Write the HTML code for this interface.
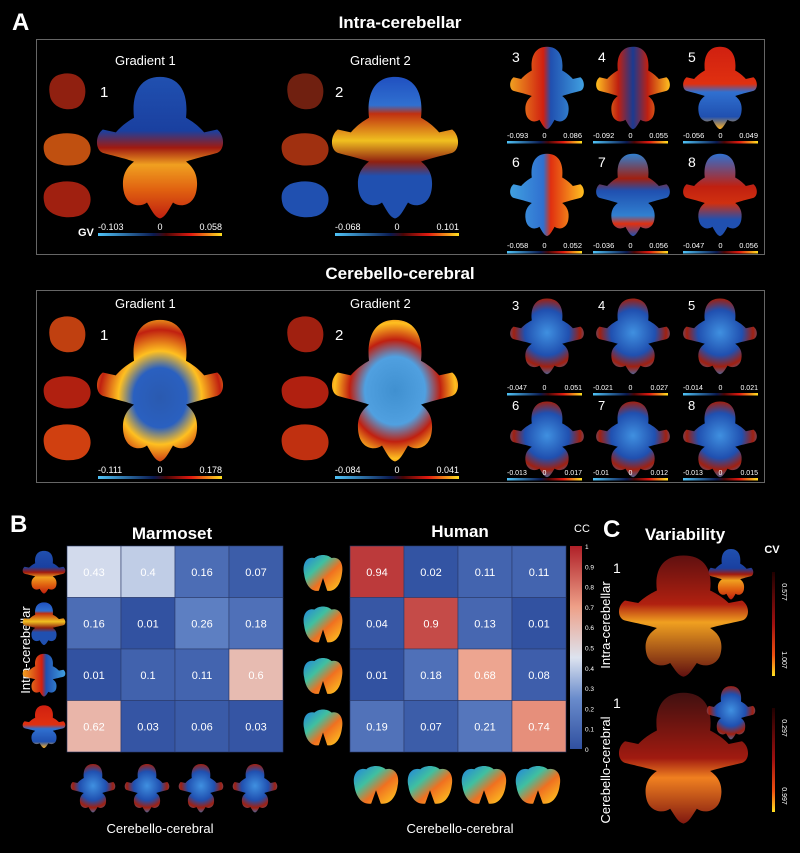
<!DOCTYPE html>
<html><head><meta charset="utf-8"><style>
html,body{margin:0;padding:0;background:#000;}
body{width:800px;height:848px;overflow:hidden;font-family:"Liberation Sans",sans-serif;}
</style></head><body>
<svg id="s" width="800" height="848" viewBox="0 0 800 848" xmlns="http://www.w3.org/2000/svg" font-family="Liberation Sans, sans-serif">
<defs>
<linearGradient id="gv" x1="0" x2="1"><stop offset="0" stop-color="#4fc3f7"/><stop offset="0.45" stop-color="#0a1a50"/><stop offset="0.55" stop-color="#4a0505"/><stop offset="0.75" stop-color="#e01a10"/><stop offset="1" stop-color="#ffe020"/></linearGradient>
<linearGradient id="b1" x1="0" y1="0" x2="0" y2="1"><stop offset="0" stop-color="#2050b0"/><stop offset="0.38" stop-color="#1a40a0"/><stop offset="0.5" stop-color="#a01a10"/><stop offset="0.62" stop-color="#f0a020"/><stop offset="0.8" stop-color="#e06010"/><stop offset="1" stop-color="#c02010"/></linearGradient>
<linearGradient id="b2" x1="0" y1="0" x2="0" y2="1"><stop offset="0" stop-color="#2050c0"/><stop offset="0.2" stop-color="#3070d0"/><stop offset="0.26" stop-color="#c03010"/><stop offset="0.45" stop-color="#f0c020"/><stop offset="0.6" stop-color="#902010"/><stop offset="0.7" stop-color="#2050b0"/><stop offset="1" stop-color="#2050b0"/></linearGradient>
<linearGradient id="b3" x1="0" y1="0" x2="1" y2="0"><stop offset="0" stop-color="#f0a020"/><stop offset="0.45" stop-color="#d02010"/><stop offset="0.55" stop-color="#2050b0"/><stop offset="1" stop-color="#40a0e0"/></linearGradient>
<linearGradient id="b4" x1="0" y1="0" x2="1" y2="0"><stop offset="0" stop-color="#ffc020"/><stop offset="0.3" stop-color="#c02010"/><stop offset="0.5" stop-color="#1a3a90"/><stop offset="0.7" stop-color="#c02010"/><stop offset="1" stop-color="#ffc020"/></linearGradient>
<linearGradient id="b5" x1="0" y1="0" x2="0" y2="1"><stop offset="0" stop-color="#d02010"/><stop offset="0.45" stop-color="#e03010"/><stop offset="0.55" stop-color="#3070d0"/><stop offset="0.85" stop-color="#2050b0"/><stop offset="1" stop-color="#ffb020"/></linearGradient>
<linearGradient id="b6" x1="0" y1="0" x2="1" y2="0"><stop offset="0" stop-color="#40a0e0"/><stop offset="0.45" stop-color="#3070d0"/><stop offset="0.55" stop-color="#e03010"/><stop offset="1" stop-color="#ffc020"/></linearGradient>
<linearGradient id="b7" x1="0" y1="0" x2="0" y2="1"><stop offset="0" stop-color="#3080d0"/><stop offset="0.3" stop-color="#a02010"/><stop offset="0.45" stop-color="#2050b0"/><stop offset="0.75" stop-color="#3080d0"/><stop offset="0.85" stop-color="#e03010"/><stop offset="1" stop-color="#2050b0"/></linearGradient>
<linearGradient id="b8" x1="0" y1="0" x2="0" y2="1"><stop offset="0" stop-color="#3070d0"/><stop offset="0.4" stop-color="#c02010"/><stop offset="0.6" stop-color="#d03010"/><stop offset="0.8" stop-color="#2050b0"/><stop offset="1" stop-color="#2050b0"/></linearGradient>
<radialGradient id="c1" cx="0.5" cy="0.55" r="0.6"><stop offset="0" stop-color="#2a5ab0"/><stop offset="0.35" stop-color="#2a60c0"/><stop offset="0.55" stop-color="#ffc020"/><stop offset="0.8" stop-color="#c02010"/><stop offset="1" stop-color="#ffd020"/></radialGradient>
<radialGradient id="c2" cx="0.5" cy="0.5" r="0.6"><stop offset="0" stop-color="#4090d0"/><stop offset="0.4" stop-color="#50a0e0"/><stop offset="0.6" stop-color="#c02010"/><stop offset="0.8" stop-color="#ffc020"/><stop offset="1" stop-color="#c02010"/></radialGradient>
<radialGradient id="cs" cx="0.5" cy="0.45" r="0.6"><stop offset="0" stop-color="#4090e0"/><stop offset="0.5" stop-color="#2050b0"/><stop offset="0.75" stop-color="#a02010"/><stop offset="1" stop-color="#3080d0"/></radialGradient>
<linearGradient id="var1" x1="0" y1="0" x2="0" y2="1"><stop offset="0" stop-color="#601010"/><stop offset="0.4" stop-color="#b02010"/><stop offset="0.55" stop-color="#f0a020"/><stop offset="1" stop-color="#601010"/></linearGradient>
<linearGradient id="var2" x1="0" y1="0" x2="0" y2="1"><stop offset="0" stop-color="#401010"/><stop offset="0.5" stop-color="#a01a10"/><stop offset="0.65" stop-color="#f08020"/><stop offset="1" stop-color="#801810"/></linearGradient>
<linearGradient id="cc" x1="0" y1="1" x2="0" y2="0"><stop offset="0" stop-color="#3050a0"/><stop offset="0.25" stop-color="#6a8ccc"/><stop offset="0.45" stop-color="#dde3ef"/><stop offset="0.7" stop-color="#eea088"/><stop offset="1" stop-color="#b02028"/></linearGradient>
<linearGradient id="cv" x1="0" y1="0" x2="0" y2="1"><stop offset="0" stop-color="#200000"/><stop offset="0.5" stop-color="#a01010"/><stop offset="0.8" stop-color="#f05010"/><stop offset="1" stop-color="#ffe020"/></linearGradient>
<linearGradient id="hum" x1="0" y1="0" x2="1" y2="1"><stop offset="0" stop-color="#2080e0"/><stop offset="0.35" stop-color="#40c0a0"/><stop offset="0.6" stop-color="#f07020"/><stop offset="1" stop-color="#ffd020"/></linearGradient>
<path id="br" d="M50,2 C34,2 28,14 30,30 C22,34 18,38 16,40 L6,38 C0,42 0,52 6,54 C14,56 24,58 30,60 C24,64 20,70 22,80 C24,90 34,92 40,88 C44,94 46,98 50,99 C54,98 56,94 60,88 C66,92 76,90 78,80 C80,70 76,64 70,60 C76,58 86,56 94,54 C100,52 100,42 94,38 L84,40 C82,38 78,34 70,30 C72,14 66,2 50,2 Z"/>
<path id="hb" d="M30,10 C40,0 60,0 70,10 C90,5 100,25 95,50 C92,75 80,95 60,92 L50,60 L40,92 C20,95 8,75 5,50 C0,25 10,5 30,10 Z"/>
<path id="sv" d="M20,10 C40,0 70,0 85,20 C100,40 95,80 70,90 C40,100 10,85 5,60 C0,35 5,20 20,10 Z"/>
</defs>
<g id="g"></g>
</svg>
<script>
var g=document.getElementById('g'),h='';
function T(x,y,t,sz,anchor,extra){h+='<text x="'+x+'" y="'+y+'" font-size="'+sz+'" fill="#fff" text-anchor="'+(anchor||'start')+'" '+(extra||'')+'>'+t+'</text>';}
function B(x,y,w,hh,fill){h+='<svg x="'+x+'" y="'+y+'" width="'+w+'" height="'+hh+'" viewBox="0 0 100 100" preserveAspectRatio="none"><use href="#br" fill="'+fill+'"/></svg>';}
function HB(x,y,w,hh,fill){h+='<svg x="'+x+'" y="'+y+'" width="'+w+'" height="'+hh+'" viewBox="0 0 100 100" preserveAspectRatio="none"><use href="#hb" fill="'+fill+'"/></svg>';}
function SV(cx,cy,rx,ry,f){h+='<svg x="'+(cx-rx)+'" y="'+(cy-ry)+'" width="'+(2*rx)+'" height="'+(2*ry)+'" viewBox="0 0 100 100" preserveAspectRatio="none"><use href="#sv" fill="'+f+'"/></svg>';}
function CB(x,y,w,a,b,sz){h+='<rect x="'+x+'" y="'+y+'" width="'+w+'" height="'+(sz>8?3:2.5)+'" fill="url(#gv)"/>';
 T(x,y-3,a,sz);T(x+w/2,y-3,'0',sz,'middle');T(x+w,y-3,b,sz,'end');}
T(12,30,'A',24,'start','font-weight="bold"');
T(400,28,'Intra-cerebellar',17,'middle','font-weight="bold"');
T(400,279,'Cerebello-cerebral',17,'middle','font-weight="bold"');
h+='<rect x="36.5" y="39.5" width="728" height="215" fill="none" stroke="#666"/>';
h+='<rect x="36.5" y="290.5" width="728" height="192" fill="none" stroke="#666"/>';
function bigRow(y0,f1,f2,side,l1a,l1b,l2a,l2b){
 T(115,y0+25,'Gradient 1',13);T(350,y0+25,'Gradient 2',13);
 T(100,y0+57,'1',15);T(335,y0+57,'2',15);
 SV(68,y0+52,20,20,side[0]);SV(68,y0+110,26,18,side[1]);SV(68,y0+160,26,20,side[2]);
 SV(306,y0+52,20,20,side[3]);SV(306,y0+110,26,18,side[4]);SV(306,y0+160,26,20,side[5]);
 B(95,y0+34,130,146,f1);B(330,y0+34,130,146,f2);
 CB(98,y0+193,124,l1a,l1b,9);
 CB(335,y0+193,124,l2a,l2b,9);
}
bigRow(40,'url(#b1)','url(#b2)',['#902010','#c05010','#a02010','#702010','#a03010','#2050b0'],'-0.103','0.058','-0.068','0.101');
T(78,236,'GV',11,'start','font-weight="bold"');
bigRow(283,'url(#c1)','url(#c2)',['#c04010','#b02010','#d04010','#a02010','#b02010','#c03010'],'-0.111','0.178','-0.084','0.041');
var cx=[547,633,720],bx=[507,593,683];
var r1=[['url(#b3)','url(#b4)','url(#b5)'],['url(#b6)','url(#b7)','url(#b8)']];
var lab1=[['-0.093','0.086'],['-0.092','0.055'],['-0.056','0.049'],['-0.058','0.052'],['-0.036','0.056'],['-0.047','0.056']];
var lab2=[['-0.047','0.051'],['-0.021','0.027'],['-0.014','0.021'],['-0.013','0.017'],['-0.01','0.012'],['-0.013','0.015']];
for(var r=0;r<2;r++)for(var c=0;c<3;c++){
 var n=r*3+c+3;
 T(bx[c]+5,[62,167][r],n,14);
 B(cx[c]-38,[45,152][r],76,85,r1[r][c]);
 CB(bx[c],[141,251][r],75,lab1[n-3][0],lab1[n-3][1],7.5);
 T(bx[c]+5,[310,410][r],n,13);
 B(cx[c]-38,[297,400][r],76,78,'url(#cs)');
 CB(bx[c],[393,478][r],75,lab2[n-3][0],lab2[n-3][1],7);
}
T(10,532,'B',24,'start','font-weight="bold"');
T(172,539,'Marmoset',17,'middle','font-weight="bold"');
T(460,537,'Human',17,'middle','font-weight="bold"');
T(582,532,'CC',11,'middle');
T(30,650,'Intra-cerebellar',13,'middle','transform="rotate(-90 30 650)"');
var M=[[0.43,0.4,0.16,0.07],[0.16,0.01,0.26,0.18],[0.01,0.1,0.11,0.6],[0.62,0.03,0.06,0.03]];
var H=[[0.94,0.02,0.11,0.11],[0.04,0.9,0.13,0.01],[0.01,0.18,0.68,0.08],[0.19,0.07,0.21,0.74]];
function col(v){var st=[[0,[48,80,160]],[0.25,[106,140,204]],[0.45,[221,227,239]],[0.7,[238,160,136]],[1,[176,32,40]]];
 for(var i=1;i<st.length;i++)if(v<=st[i][0]){var a=st[i-1],b=st[i],t=(v-a[0])/(b[0]-a[0]);
 return 'rgb('+a[1].map(function(q,k){return Math.round(q+(b[1][k]-q)*t)}).join(',')+')';}}
function grid(x0,y0,D){for(var i=0;i<4;i++)for(var j=0;j<4;j++){var v=D[i][j];
 h+='<rect x="'+(x0+j*54)+'" y="'+(y0+i*51.5)+'" width="54" height="51.5" fill="'+col(v<0.3?v*0.75:v)+'" stroke="#2a3a6a" stroke-width="0.6"/>';
 T(x0+j*54+27,y0+i*51.5+30,v,11,'middle');}}
grid(67,546,M);grid(350,546,H);
h+='<rect x="570" y="546" width="12" height="203" fill="url(#cc)"/>';
for(var k=0;k<=10;k++){T(585,749-k*20.3+3,k==0?'0':k==10?'1':'0.'+k,6.5);}
var mf=['url(#b1)','url(#b2)','url(#b3)','url(#b5)'];
for(var i=0;i<4;i++){B(22,546+i*51.5+4,44,44,mf[i]);HB(302,546+i*51.5+8,42,40,'url(#hum)');}
for(var j=0;j<4;j++){B(70+j*54,763,46,50,'url(#cs)');HB(352+j*54,765,48,42,'url(#hum)');}
T(160,833,'Cerebello-cerebral',13,'middle');T(460,833,'Cerebello-cerebral',13,'middle');
T(603,537,'C',24,'start','font-weight="bold"');
T(685,540,'Variability',17,'middle','font-weight="bold"');
T(772,553,'CV',11,'middle','font-weight="bold"');
T(613,573,'1',14);T(613,708,'1',14);
T(610,625,'Intra-cerebellar',13,'middle','transform="rotate(-90 610 625)"');
T(610,770,'Cerebello-cerebral',13,'middle','transform="rotate(-90 610 770)"');
B(617,553,133,125,'url(#var1)');B(617,690,133,135,'url(#var2)');
B(708,548,46,52,'url(#b1)');B(706,685,50,55,'url(#cs)');
h+='<rect x="772" y="572" width="3" height="104" fill="url(#cv)"/>';
h+='<rect x="772" y="708" width="3" height="104" fill="url(#cv)"/>';
T(782,592,'0.577',7,'middle','transform="rotate(90 782 592)"');
T(782,660,'1.007',7,'middle','transform="rotate(90 782 660)"');
T(782,728,'0.297',7,'middle','transform="rotate(90 782 728)"');
T(782,796,'0.997',7,'middle','transform="rotate(90 782 796)"');
g.innerHTML=h;
</script>
</body></html>
